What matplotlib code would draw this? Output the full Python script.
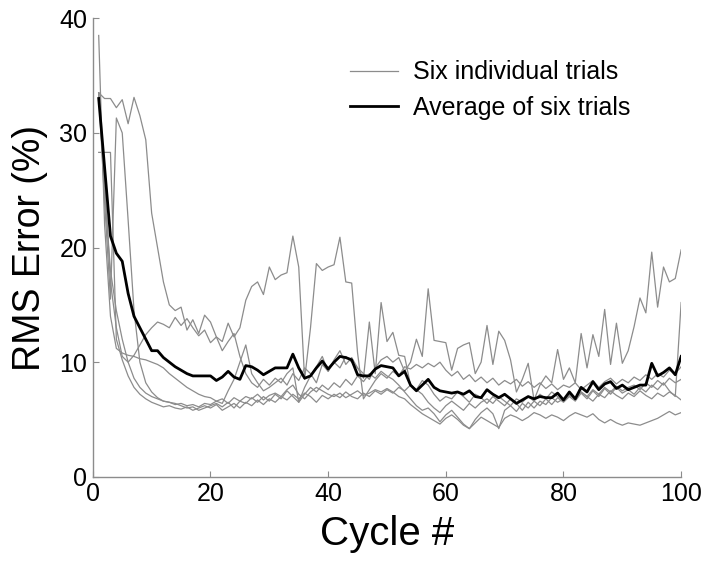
import numpy as np
import matplotlib
matplotlib.use('Agg')
from matplotlib import pyplot as plt

plt.rcParams['font.family'] = ['Liberation Sans', 'DejaVu Sans']

cycles = np.arange(1, 101)

#six individual trials
trial1 = [38.5, 22.0, 14.0, 11.2, 10.8, 10.6, 10.5, 10.3, 10.2, 10.0,
          9.8, 9.5, 9.0, 8.6, 8.2, 7.8, 7.5, 7.2, 7.0, 6.9,
          6.6, 6.8, 6.4, 6.9, 6.6, 7.0, 6.8, 7.2, 6.7, 7.1,
          7.3, 7.0, 7.6, 8.0, 7.2, 6.8, 7.4, 7.8, 7.5, 7.2,
          7.0, 7.3, 6.9, 7.2, 7.5, 7.1, 7.3, 7.6, 7.4, 7.7,
          7.4, 7.0, 6.8, 6.3, 5.9, 5.5, 5.2, 4.9, 4.6, 5.1,
          5.4, 5.0, 4.5, 4.2, 4.7, 5.2, 4.9, 4.6, 4.3, 5.1,
          5.4, 5.2, 4.9, 5.2, 5.6, 5.4, 5.1, 5.4, 5.2, 4.9,
          5.3, 5.6, 5.4, 5.2, 5.5, 5.0, 4.7, 5.0, 4.7, 4.5,
          4.7, 4.6, 4.5, 4.7, 4.9, 5.1, 5.4, 5.7, 5.4, 5.6]
trial2 = [33.5, 33.0, 33.0, 32.2, 32.9, 30.8, 33.1, 31.5, 29.4, 23.0,
          20.0, 17.0, 15.0, 14.5, 14.8, 12.8, 13.7, 12.5, 14.1, 13.5,
          12.2, 11.0, 11.8, 12.5, 10.5, 9.0, 8.2, 7.8, 8.5, 8.0,
          8.6, 8.2, 9.0, 9.5, 6.5, 7.8, 8.8, 9.6, 10.5, 9.2,
          10.2, 11.0, 9.8, 10.4, 9.5, 8.6, 13.5, 9.0, 15.2, 11.8,
          12.6, 10.6, 10.5, 8.0, 7.6, 8.4, 8.0, 7.2, 6.6, 7.0,
          6.8, 7.4, 7.0, 6.5, 7.2, 6.9, 6.4, 7.0, 6.6, 6.2,
          6.8, 6.4, 5.8, 6.5, 6.0, 6.6, 6.3, 6.9, 6.5, 6.8,
          7.2, 6.8, 7.4, 7.0, 7.6, 7.2, 7.8, 7.4, 7.9, 7.5,
          7.8, 8.0, 7.6, 8.2, 7.8, 8.4, 8.0, 8.6, 8.2, 8.5]
trial3 = [33.5, 26.0, 17.0, 13.0, 10.5, 10.0, 10.6, 11.5, 12.4, 13.0,
          13.5, 13.3, 13.0, 13.9, 13.2, 13.8, 13.0, 12.3, 12.8, 11.7,
          12.2, 11.8, 13.4, 12.2, 13.0, 15.4, 16.6, 17.0, 15.9, 18.3,
          17.2, 17.6, 17.8, 21.0, 18.3, 8.5, 13.0, 18.6, 18.0, 18.3,
          18.5, 20.9, 17.0, 16.9, 10.8, 6.8, 7.6, 8.4, 9.0, 8.6,
          9.2, 8.8, 9.6, 9.4, 9.8, 9.5, 9.9, 9.6, 10.0, 9.3,
          8.8, 9.2, 8.5, 8.9, 8.3, 8.7, 8.2, 8.6, 8.0, 8.4,
          8.1, 8.5, 7.9, 8.3, 7.8, 8.2, 7.7, 8.1, 7.6, 8.0,
          7.8, 8.2, 7.6, 8.0, 8.4, 7.8, 8.3, 8.6, 8.1, 8.5,
          8.2, 8.7, 8.4, 8.9, 8.5, 9.0, 8.7, 9.3, 9.0, 9.6]
trial4 = [33.5, 24.0, 15.5, 31.3, 30.0, 22.4, 14.5, 10.0, 8.2, 7.4,
          6.9, 6.6, 6.5, 6.4, 6.2, 6.0, 6.1, 5.8, 6.0, 6.2,
          6.4, 6.1, 6.5, 6.0, 6.6, 6.4, 6.9, 6.5, 7.0, 6.6,
          7.2, 6.8, 7.5, 7.0, 6.5, 7.2, 7.8, 7.4, 8.0, 7.6,
          8.2, 7.8, 8.5, 8.0, 8.8, 8.3, 9.0, 8.6, 9.2, 8.8,
          8.5, 8.0, 7.4, 6.8, 6.2, 5.8, 6.0, 5.5, 4.8, 5.4,
          5.8, 5.2, 4.6, 4.2, 5.0, 5.6, 6.0, 5.5, 4.2, 5.8,
          6.2, 5.7, 6.4, 6.0, 6.6, 6.2, 6.8, 6.3, 6.9, 6.5,
          7.0, 6.6, 7.3, 6.8, 7.5, 7.0, 7.7, 7.2, 7.8, 7.3,
          7.6, 7.2, 7.8, 7.4, 8.0, 7.6, 8.2, 7.5, 7.0, 15.2]
trial5 = [28.3, 28.3, 28.3, 12.0, 10.2, 8.8, 7.8, 7.2, 6.8, 6.5,
          6.3, 6.1, 6.2, 6.0, 5.9, 6.1, 5.8, 6.0, 6.2, 6.0,
          6.3, 5.8, 6.1, 6.4, 6.0, 6.5, 6.2, 6.7, 6.3, 6.8,
          6.5, 7.0, 6.7, 7.2, 6.8, 7.3, 7.0, 6.5, 7.1, 6.8,
          7.2, 6.9, 7.4, 7.0, 6.8, 7.3, 7.0, 7.5, 7.2, 7.6,
          7.3, 7.8, 7.5, 8.0, 7.6, 7.2, 6.5, 6.0, 5.6, 6.2,
          6.6, 6.2, 5.8, 6.4, 6.0, 6.5, 6.8, 6.4, 7.0, 6.6,
          6.2, 6.8, 6.5, 7.0, 6.6, 7.2, 6.8, 7.4, 7.0, 6.6,
          7.1, 6.8, 7.4, 7.0, 6.6, 7.2, 6.9, 7.5, 7.1, 6.8,
          7.3, 7.0, 7.5, 7.1, 6.8, 7.3, 7.0, 7.4, 7.1, 6.7]
trial6 = [33.5, 25.0, 18.0, 14.5, 12.0, 10.0, 8.6, 7.8, 7.3, 7.0,
          6.8, 6.6, 6.5, 6.3, 6.4, 6.2, 6.3, 6.1, 6.4, 6.3,
          6.6, 6.4, 7.5, 8.5, 10.0, 11.5, 9.0, 8.2, 7.5, 7.8,
          8.2, 8.6, 8.0, 9.0, 8.4, 9.5, 9.0, 8.2, 9.8, 9.2,
          10.0, 9.5, 10.5, 10.0, 9.5, 9.0, 8.5, 9.5, 10.2, 10.5,
          10.0, 10.4, 9.2, 10.0, 12.0, 10.5, 16.4, 11.9, 11.8, 11.7,
          9.3, 11.2, 11.5, 11.7, 9.0, 10.0, 13.2, 9.8, 12.7, 11.9,
          10.2, 7.4, 8.5, 9.9, 6.7, 8.0, 8.8, 8.2, 11.1, 8.5,
          9.5, 8.2, 12.5, 9.5, 12.4, 10.5, 14.6, 9.8, 13.4, 9.9,
          11.0, 13.1, 15.6, 14.3, 19.6, 14.8, 18.3, 17.0, 17.3, 19.8]

#average of the six trials
average = [33.0, 27.0, 21.0, 19.5, 18.8, 16.0, 14.0, 13.0, 12.0, 11.0,
           11.0, 10.4, 10.0, 9.6, 9.3, 9.0, 8.8, 8.8, 8.8, 8.8,
           8.4, 8.7, 9.2, 8.7, 8.5, 9.7, 9.6, 9.3, 8.9, 9.2,
           9.5, 9.5, 9.5, 10.7, 9.5, 8.6, 8.8, 9.5, 10.1, 9.4,
           10.0, 10.5, 10.4, 10.2, 8.9, 8.8, 8.8, 9.4, 9.7, 9.6,
           9.5, 8.8, 9.2, 8.0, 7.5, 8.0, 8.5, 7.8, 7.5, 7.4,
           7.3, 7.4, 7.2, 7.5, 7.0, 6.9, 7.6, 7.2, 6.9, 7.2,
           6.8, 6.4, 6.7, 7.0, 6.8, 7.0, 6.9, 6.9, 7.3, 6.7,
           7.4, 6.8, 7.8, 7.4, 8.3, 7.6, 8.1, 8.3, 7.7, 8.0,
           7.6, 7.8, 8.0, 8.0, 9.9, 8.8, 9.1, 9.5, 8.9, 10.5]

trials = [trial1, trial2, trial3, trial4, trial5, trial6]

fig = plt.figure(figsize=(7.14, 5.71), dpi=100)
ax = fig.add_axes([0.130, 0.165, 0.824, 0.803])

for i, t in enumerate(trials):
    ax.plot(cycles, t, color='#8c8c8c', lw=0.9,
            label='Six individual trials' if i == 0 else None)
ax.plot(cycles, average, color='black', lw=2.0, label='Average of six trials')

ax.set_xlim(0, 100)
ax.set_ylim(0, 40)
ax.set_xticks([0, 20, 40, 60, 80, 100])
ax.set_yticks([0, 10, 20, 30, 40])
ax.spines['top'].set_visible(False)
ax.spines['right'].set_visible(False)
for s in ['left', 'bottom']:
    ax.spines[s].set_color('#8c8c8c')
    ax.spines[s].set_linewidth(1.0)
ax.tick_params(direction='in', length=4, color='#8c8c8c', labelsize=18, pad=4)

ax.set_xlabel('Cycle #', fontsize=29, labelpad=6)
ax.set_ylabel('RMS Error (%)', fontsize=27, labelpad=8)

ax.legend(loc='upper left', bbox_to_anchor=(0.399, 0.957), frameon=False,
          fontsize=18, handlelength=1.9, handletextpad=0.6, labelspacing=0.45)

plt.savefig('out.png', dpi=100)
